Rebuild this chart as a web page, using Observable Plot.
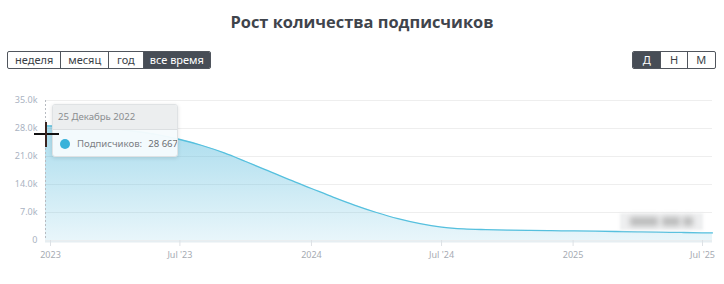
<!DOCTYPE html>
<html>
<head>
<meta charset="utf-8">
<script src="https://cdn.jsdelivr.net/npm/d3@7"></script>
<script src="https://cdn.jsdelivr.net/npm/@observablehq/plot@0.6"></script>
<style>
  html, body { margin: 0; padding: 0; background: #fff; }
  #wrap { position: relative; width: 724px; height: 284px; overflow: hidden; font-family: "Noto Sans", sans-serif; }
  #title { position: absolute; top: 10px; left: 0; width: 724px; text-align: center; font-family: "Open Sans", sans-serif; font-weight: 700; font-size: 16.4px; color: #3f444c; }
  .grp { position: absolute; top: 51px; height: 18px; display: flex; border: 1px solid #50555d; border-radius: 2px; box-sizing: border-box; overflow: hidden; }
  .grp div { height: 16px; line-height: 16px; text-align: center; font-size: 11px; color: #3a3f47; border-left: 1px solid #50555d; box-sizing: border-box; }
  .grp div:first-child { border-left: none; }
  .grp div.on { background: #474d56; color: #fff; }
  #chart { position: absolute; left: 0; top: 80px; }
  #tip { position: absolute; left: 52px; top: 104px; width: 126px; height: 53px; border: 1px solid #dfe2e4; border-radius: 3px; box-shadow: 0 1px 4px rgba(0,0,0,0.12); background: rgba(246,251,253,0.96); overflow: hidden; font-size: 9.6px; box-sizing: border-box; }
  #tip .hd { height: 24px; line-height: 24px; background: #eceeef; border-bottom: 1px solid #dcdfe1; color: #8a8d90; padding-left: 5px; }
  #tip .bd { height: 27px; line-height: 27px; color: #7c8085; padding-left: 24px; position: relative; white-space: nowrap; }
  #tip .dot { position: absolute; left: 7px; top: 9px; width: 10px; height: 10px; border-radius: 50%; background: #3ab2da; }
  #wm { position: absolute; left: 620px; top: 213px; width: 83px; height: 17px; background: rgba(236,237,238,0.9); filter: blur(1.5px); }
  #wm span { position: absolute; top: 4px; height: 9px; background: #bbbbbb; filter: blur(2.5px); }
  .cur { position: absolute; background: #111; }
</style>
</head>
<body>
<div id="wrap">
  <div id="title">Рост количества подписчиков</div>
  <div class="grp" style="left:7px;width:204px;">
    <div style="width:53px">неделя</div>
    <div style="width:48px">месяц</div>
    <div style="width:35px">год</div>
    <div class="on" style="width:68px">все время</div>
  </div>
  <div class="grp" style="left:632px;width:84px;">
    <div class="on" style="width:28px">Д</div>
    <div style="width:27px">Н</div>
    <div style="width:29px">М</div>
  </div>
  <div id="chart"></div>
  <div id="wm"><span style="left:10px;width:28px"></span><span style="left:42px;width:18px"></span><span style="left:63px;width:10px"></span></div>
  <div id="tip">
    <div class="hd">25 Декабрь 2022</div>
    <div class="bd"><div class="dot"></div>Подписчиков:<span style="color:#6c7075;margin-left:6px">28 667</span></div>
  </div>
  <div class="cur" style="left:34px;top:133px;width:25px;height:2px;"></div>
  <div class="cur" style="left:45px;top:122px;width:2px;height:25px;background:#3a2420;"></div>
</div>
<script>
const dates = ["2022-12-25","2023-02-01","2023-03-01","2023-04-01","2023-05-01","2023-06-01","2023-07-01","2023-08-01","2023-09-01","2023-10-01","2023-11-01","2023-12-01","2024-01-01","2024-02-01","2024-03-01","2024-04-01","2024-05-01","2024-06-01","2024-07-01","2024-08-01","2024-09-01","2024-10-01","2024-11-01","2024-12-01","2025-01-01","2025-02-01","2025-03-01","2025-04-01","2025-05-01","2025-06-01","2025-07-01","2025-07-15"];
const subscribers = [28667,28500,28250,27850,27250,26400,25250,23750,21900,19750,17450,15200,13000,10800,8850,7000,5450,4200,3350,2900,2720,2610,2530,2460,2390,2320,2250,2170,2090,2010,1930,1890];
const yTicks = [0,7000,14000,21000,28000,35000];
const xTicks = ["2023-01-01","2023-07-01","2024-01-01","2024-07-01","2025-01-01","2025-07-01"];

const data = dates.map((d,i) => ({date: new Date(d + "T00:00:00Z"), value: subscribers[i]}));
const xt = xTicks.map(d => new Date(d + "T00:00:00Z"));

function defs() {
  const ns = "http://www.w3.org/2000/svg";
  const g = document.createElementNS(ns, "defs");
  g.innerHTML = '<linearGradient id="ag" x1="0" y1="0" x2="0" y2="1">' +
    '<stop offset="0" stop-color="#52b8db" stop-opacity="0.5"/>' +
    '<stop offset="1" stop-color="#52b8db" stop-opacity="0.13"/></linearGradient>';
  return g;
}

const chart = Plot.plot({
  width: 724,
  height: 190,
  marginTop: 20,
  marginBottom: 30,
  marginLeft: 45,
  marginRight: 12,
  style: {fontFamily: "Noto Sans, sans-serif", fontSize: "9px", background: "transparent"},
  x: {type: "utc", domain: [data[0].date, data[data.length-1].date], label: null},
  y: {domain: [0, 35000], label: null},
  marks: [
    defs,
    Plot.gridY(yTicks, {stroke: "#eeeeee", strokeOpacity: 1}),
    Plot.areaY(data, {x: "date", y: "value", fill: "url(#ag)", curve: "monotone-x"}),
    Plot.lineY(data, {x: "date", y: "value", stroke: "#56c0de", strokeWidth: 1.3, curve: "monotone-x"}),
    Plot.ruleX([data[0]], {x: "date", stroke: "#b8bcc2", strokeDasharray: "2,2", strokeWidth: 1}),
    Plot.ruleY([0], {stroke: "#e6eef2", strokeWidth: 2, dy: 1}),
    Plot.axisY(yTicks, {tickSize: 0, tickPadding: 8, color: "#aab3c2",
      tickFormat: d => d === 0 ? "0" : (d/1000).toFixed(1) + "k"}),
    Plot.axisX(xt, {tickSize: 6, tickPadding: 5, color: "#a6abb3", stroke: "#dde1e5",
      tickFormat: d => d.getUTCMonth() === 0 ? String(d.getUTCFullYear()) : "Jul '" + String(d.getUTCFullYear()).slice(2)})
  ]
});
document.getElementById("chart").appendChild(chart);
</script>
</body>
</html>
